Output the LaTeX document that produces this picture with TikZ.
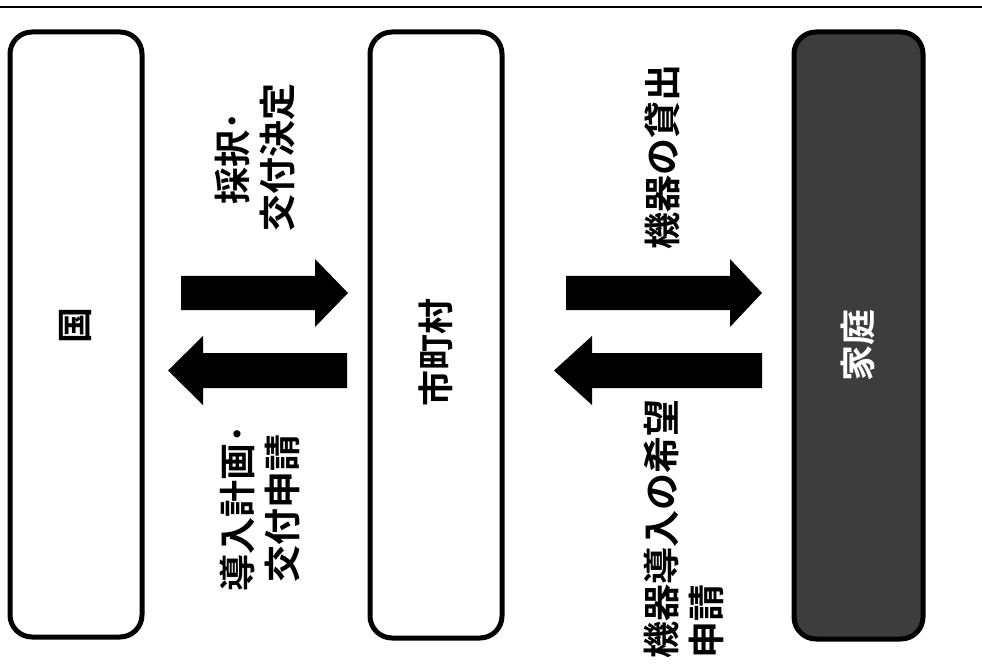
\documentclass[tikz,border=0pt]{standalone}
\usepackage{fontspec}
\newfontfamily\jp{Noto Sans CJK JP Bold}
\begin{document}
\begin{tikzpicture}[x=1pt,y=-1pt,
  box/.style={draw=black,line width=5pt,rounded corners=22pt},
  blockarrow/.style={fill=black},
  lbl/.style={rotate=90,font=\jp\fontsize{37}{45}\selectfont,inner sep=0pt},
  boxlbl/.style={rotate=90,font=\jp\fontsize{36}{40}\selectfont,inner sep=0pt}]
\useasboundingbox (0,0) rectangle (982,668);
% top rule
\draw[line width=2.5pt] (0,7) -- (982,7);
% boxes
\draw[box] (10,32) rectangle (142,637);
\draw[box] (370,32) rectangle (502,638);
\draw[box,fill=black!76] (794,32) rectangle (923,639);
\node[boxlbl] (kuni) at (76,325) {国};
\node[boxlbl] (shichoson) at (436,352) {市町村};
\node[boxlbl,text=white] (katei) at (858,345) {家庭};
% block arrows between 国 and 市町村
\fill[blockarrow] (181,276) -- (315,276) -- (315,259) -- (348,293) -- (315,327) -- (315,310) -- (181,310) -- cycle;
\fill[blockarrow] (347,353) -- (203,353) -- (203,336) -- (168,370.5) -- (203,405) -- (203,388) -- (347,388) -- cycle;
% block arrows between 市町村 and 家庭
\fill[blockarrow] (566,276) -- (730,276) -- (730,259) -- (762,293) -- (730,327) -- (730,310) -- (566,310) -- cycle;
\fill[blockarrow] (762,353) -- (592,353) -- (592,336) -- (554,370.5) -- (592,405) -- (592,388) -- (762,388) -- cycle;
% labels
\node[lbl,align=center] (saitaku) at (255,158) {採択･\\交付決定};
\node[lbl,align=center] (dounyu) at (260,508) {導入計画･\\交付申請};
\node[lbl] (kashidashi) at (662,157) {機器の貸出};
\node[lbl,align=left,anchor=west] (kibou) at (684,659) {機器導入の希望\\申請};
\end{tikzpicture}
\end{document}
